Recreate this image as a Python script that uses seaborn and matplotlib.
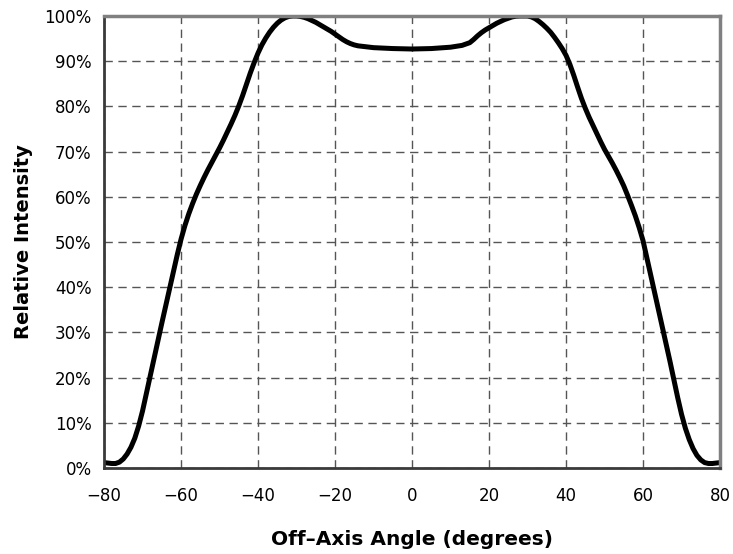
import matplotlib
matplotlib.use("Agg")
import matplotlib.pyplot as plt
import seaborn as sns
import pandas as pd
from matplotlib.ticker import FuncFormatter

# angulo (graus) e intensidade relativa (%)
angulo = [-80, -78, -77, -76, -75, -74, -73, -72, -71, -70, -69, -68, -67, -66, -65,
          -64, -63, -62, -61, -60, -59, -58, -57, -56, -55, -54, -53, -52, -51, -50,
          -49, -48, -47, -46, -45, -44, -43, -42, -41, -40, -39, -38, -37, -36, -35,
          -34, -33, -32, -31, -30, -29, -28, -27, -26, -25, -24, -23, -22, -21, -20,
          -19, -18, -17, -16, -15, -14, -12, -10, -5, 0,
          5, 10, 13, 15, 16, 17, 18, 19, 20, 21, 22, 23, 24, 25, 26, 27, 28, 29, 30,
          31, 32, 33, 34, 35, 36, 37, 38, 39, 40, 41, 42, 43, 44, 45, 46, 47, 48, 49,
          50, 51, 52, 53, 54, 55, 56, 57, 58, 59, 60, 61, 62, 63, 64, 65, 66, 67, 68,
          69, 70, 71, 72, 73, 74, 75, 76, 77, 78, 80]
intensidade = [1.2, 1.0, 1.0, 1.3, 2.0, 3.1, 4.6, 6.6, 9.3, 12.6, 16.5, 20.4, 24.3, 28.2, 32.0,
               35.8, 39.6, 43.4, 47.1, 50.6, 53.6, 56.2, 58.5, 60.6, 62.5, 64.3, 66.0, 67.6, 69.2, 70.8,
               72.5, 74.3, 76.1, 78.0, 80.1, 82.4, 84.9, 87.4, 89.7, 91.8, 93.6, 95.1, 96.4, 97.5, 98.4,
               99.1, 99.6, 99.9, 100, 100, 99.9, 99.7, 99.4, 99.0, 98.6, 98.1, 97.6, 97.1, 96.6, 96.0,
               95.4, 94.8, 94.3, 93.9, 93.6, 93.4, 93.2, 93.0, 92.8, 92.7,
               92.8, 93.1, 93.5, 94.1, 94.8, 95.6, 96.3, 96.9, 97.4, 97.9, 98.4, 98.8, 99.2, 99.5, 99.8, 99.95, 100, 100, 100,
               99.8, 99.4, 98.8, 98.1, 97.3, 96.4, 95.3, 94.1, 92.8, 91.3, 89.3, 86.9, 84.3, 81.8, 79.6, 77.6, 75.8, 74.0, 72.2,
               70.5, 69.0, 67.5, 65.9, 64.2, 62.4, 60.3, 58.1, 55.8, 53.2, 50.3, 46.5, 42.7, 38.9, 35.1, 31.3, 27.5, 23.6, 19.6,
               15.6, 11.9, 8.8, 6.3, 4.3, 2.8, 1.8, 1.2, 1.0, 1.0, 1.2]

xticks = [-80, -60, -40, -20, 0, 20, 40, 60, 80]
yticks = [0, 10, 20, 30, 40, 50, 60, 70, 80, 90, 100]

df = pd.DataFrame({'Angulo': angulo, 'Intensidade': intensidade})

sns.set_style("white")
plt.rcParams['font.family'] = ['DejaVu Sans']

fig = plt.figure(figsize=(7.33, 5.54), dpi=100)
ax = fig.add_axes([0.1419, 0.1552, 0.8404, 0.8159])

ax.grid(True, linestyle=(0, (6, 4)), color='#555555', linewidth=1)
sns.lineplot(data=df, x='Angulo', y='Intensidade', color='black', linewidth=3.6,
             ax=ax, sort=False, solid_joinstyle='round', solid_capstyle='round')

ax.set_xlim(-80, 80)
ax.set_ylim(0, 100)
ax.set_xticks(xticks)
ax.set_yticks(yticks)
ax.yaxis.set_major_formatter(FuncFormatter(lambda v, p: f"{int(v)}%"))
ax.tick_params(axis='both', direction='out', length=5, width=1, colors='#333333',
               labelsize=12, labelcolor='black', pad=4)
ax.tick_params(axis='x', pad=9)

for s in ['left', 'bottom']:
    ax.spines[s].set_color('#3a3a3a')
    ax.spines[s].set_linewidth(2)
for s in ['top', 'right']:
    ax.spines[s].set_color('#808080')
    ax.spines[s].set_linewidth(2.5)

ax.set_xlabel('Off\u2013Axis Angle (degrees)', fontsize=14.5, fontweight='bold',
              color='black', labelpad=18)
ax.set_ylabel('Relative Intensity', fontsize=14, fontweight='bold',
              color='black', labelpad=8)

plt.savefig('out.png', dpi=100)
